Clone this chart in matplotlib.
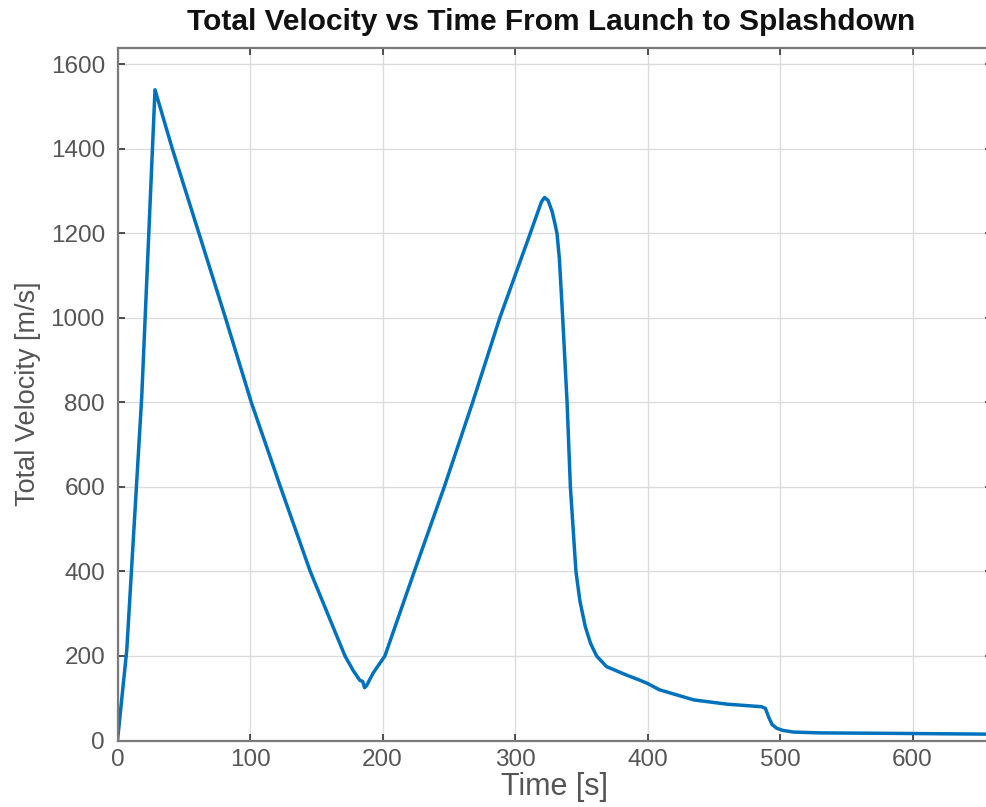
import numpy as np
import matplotlib
matplotlib.use("Agg")
import matplotlib.pyplot as plt

# values (time [s], total velocity [m/s])
time_s = [0, 7, 18.3, 28.3, 41.4, 61.5, 81.5, 101, 123, 145.5, 171.7,
          178, 183, 185, 186.5, 188, 193, 201.8, 224, 246.6, 268, 288.5,
          311.5, 316, 320, 322.3, 325, 328, 330, 331.7, 333.5, 336, 339.3,
          341.8, 346, 349, 353, 357, 361.6, 369, 384, 394, 400, 409, 435,
          460, 486, 489, 491.5, 494, 497.5, 502, 510, 530, 580, 660]
velocity = [0, 214, 814, 1540, 1400, 1200, 1000, 800, 600, 400, 200,
            165, 142, 140, 125, 130, 160, 200, 400, 600, 800, 1000,
            1200, 1240, 1275, 1285, 1278, 1252, 1225, 1200, 1140, 1000, 800,
            600, 400, 330, 270, 230, 200, 175, 155, 143, 135, 120, 96,
            86, 80, 76, 55, 38, 29, 24, 20, 18, 17, 15]

x_ticks = [0, 100, 200, 300, 400, 500, 600]
y_ticks = [0, 200, 400, 600, 800, 1000, 1200, 1400, 1600]

plt.rcParams['font.family'] = ['Liberation Sans', 'DejaVu Sans']

fig = plt.figure(figsize=(9.86, 8.07), dpi=100)
ax = fig.add_axes([117.5 / 986, 66.5 / 807, (992 - 117.5) / 986, 693 / 807])

ax.plot(time_s, velocity, color='#0072BD', linewidth=2.5, solid_joinstyle='round')

ax.set_xlim(0, 660)
ax.set_ylim(0, 1640)
ax.set_xticks(x_ticks)
ax.set_yticks(y_ticks)
ax.grid(True, color='#dcdcdc', linewidth=1.0)
ax.set_axisbelow(True)

# matlab-ish box and ticks
for s in ax.spines.values():
    s.set_color('#7a7a7a')
    s.set_linewidth(1.6)
ax.tick_params(direction='in', length=5, width=1.2, color='#333333',
               labelcolor='#555555', labelsize=17.5, top=True, right=True)
ax.tick_params(axis='x', pad=6)
ax.tick_params(axis='y', pad=9)

ax.set_xlabel('Time [s]', fontsize=22, color='#555555', labelpad=1)
ax.set_ylabel('Total Velocity [m/s]', fontsize=19.5, color='#555555', labelpad=7)
fig.text(0.559, 0.973, 'Total Velocity vs Time From Launch to Splashdown',
         ha='center', va='center', fontsize=21.5, fontweight='bold', color='#111111')

fig.savefig('out.png', dpi=100)
